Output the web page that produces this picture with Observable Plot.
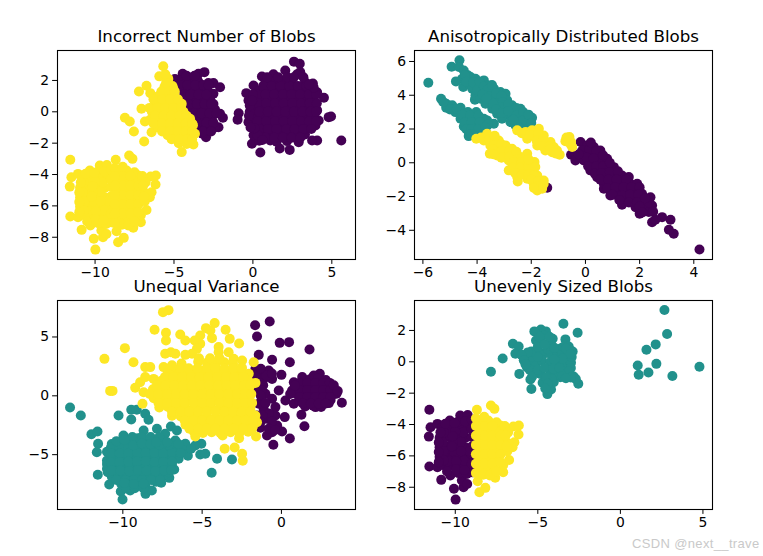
<!DOCTYPE html>
<html><head><meta charset="utf-8">
<script src="https://cdn.jsdelivr.net/npm/d3@7"></script>
<script src="https://cdn.jsdelivr.net/npm/@observablehq/plot@0.6"></script>
<style>
html,body{margin:0;padding:0;background:#fff;width:763px;height:556px;overflow:hidden}
#page{position:relative;width:763px;height:556px}
#page svg{position:absolute;overflow:visible;background:transparent}
#mark{position:absolute;left:632px;top:536px;font:13px "Liberation Sans",sans-serif;color:#c9c9c9;letter-spacing:.35px;white-space:nowrap}
</style></head><body>
<div id="page"></div>
<script>
const purple="#440154", teal="#21918c", yellow="#fde725";

// Lower-left blob, shared by "Incorrect Number" and "Unevenly Sized"
const lowerWest=[[-11.57,-3.06],[-11.5,-4.17],[-11.6,-4.77],[-11.57,-6.68],[-11.08,-6.72],[-10.85,-7.53],[-10.08,-8.1],[-9.98,-8.79],[-9.5,-8],[-9.6,-7.57],[-9.28,-7.79],[-9.7,-3.43],[-10.33,-3.74],[-11.08,-3.96],[-9.25,-3.4],[-10.3,-7.25],
[-10.8,-4.2],[-10.2,-4.25],[-9.7,-4.15],[-9.2,-4.2],[-9.9,-3.85],[-9.4,-3.8],[-10.95,-4.85],[-10.4,-4.8],[-9.9,-4.75],[-9.4,-4.85],[-9,-4.8],[-10.95,-5.45],[-10.4,-5.4],[-9.9,-5.35],[-9.4,-5.45],[-9,-5.4],[-10.95,-6.05],[-10.4,-6],[-9.9,-6.05],[-9.4,-5.95],[-9,-6.05],[-10.7,-6.6],[-10.2,-6.6],[-9.7,-6.65],[-9.2,-6.55],[-9.8,-7.1],[-9.3,-7.15],[-8.95,-7.05],[-10.75,-5.15],[-10.15,-5.7],[-9.65,-5.1],[-9.15,-5.7],[-10.65,-5.75],[-10.15,-5.1],[-9.65,-5.7],[-10.45,-6.35],[-9.45,-6.3],[-9.95,-6.35],[-10.5,-4.5],[-9.5,-4.5],[-10,-4.45],
[-10.7,-4.5],[-10.7,-5.7],[-10.7,-6.3],[-11,-6.4],[-10.2,-5.4],[-10.15,-4.75],[-10.5,-7],[-9.95,-6.85],[-9.45,-6.9],[-9,-6.5],[-9,-4.3],[-9,-3.7],[-10.6,-3.95],[-10.05,-3.9],[-10.9,-4.5],[-11,-5.15],[-11,-5.75]];
const lowerEast=[[-8.69,-3.06],[-7.63,-3],[-7.84,-2.79],[-7.27,-4.06],[-6.48,-4.13],[-6.15,-4.06],[-6.17,-4.64],[-6.42,-5.13],[-6.53,-5.45],[-6.74,-6.26],[-7.1,-7.04],[-7.58,-7.4],[-8.64,-7.62],[-8.54,-8.32],[-8.18,-8.04],
[-8.5,-3.8],[-8,-3.75],[-7.5,-3.85],[-8.5,-4.4],[-8,-4.35],[-7.5,-4.45],[-7,-4.4],[-8.5,-5],[-8,-5.05],[-7.5,-4.95],[-7,-5],[-8.5,-5.6],[-8,-5.55],[-7.5,-5.65],[-7.1,-5.6],[-8.5,-6.2],[-8,-6.25],[-7.5,-6.15],[-7.1,-6.6],[-8.5,-6.8],[-8,-6.8],[-7.6,-6.85],[-8.3,-7.2],[-7.9,-7.25],[-8.25,-4.7],[-7.75,-4.7],[-8.25,-5.3],[-7.75,-5.3],[-8.25,-5.9],[-7.75,-5.9],[-8.25,-6.5],[-7.75,-6.5],[-8.25,-4.1],[-7.75,-4.1],
[-8.75,-3.6],[-8.75,-4.1],[-8.75,-4.7],[-8.75,-5.3],[-8.75,-5.9],[-8.75,-6.5],[-8.75,-7.1],[-7.25,-4.7],[-7.25,-5.3],[-6.8,-5.2],[-7.25,-5.9],[-7.25,-6.4],[-7.5,-7],[-6.85,-5.7],[-7,-4.1],[-6.8,-4.5],[-8.25,-3.5],[-6.95,-4.7],[-6.9,-5.4]];

// Incorrect Number of Blobs
const incorrectRight=[[2.6,3.2],[2.97,3.06],[3,2.53],[2.05,2.64],[1.3,2.4],[.57,2.25],[.04,1.68],[-.42,1.19],[-.28,.72],[4.5,.9],[3.8,1.8],[3.3,1.9],[4.07,1.25],[4.07,.09],[4.17,-.55],[4.8,-.34],[4.95,-.3],[5.6,-1.83],[4.07,-1.83],[3.75,-1.83],[2.9,-1.94],[2.33,-2.43],[1.7,-2.34],[2.16,-1.87],[1.1,-1.83],[.47,-2.6],[-.06,-2.04],[.04,-1.5],[-.28,-.66],[-.9,-.09],[-.97,-.5],[3.3,-1.45],[3.96,-.87],
[.8,1.9],[1.35,1.95],[1.9,2],[2.45,1.95],[2.8,2.4],[.4,1.35],[.95,1.4],[1.5,1.35],[2.05,1.45],[2.6,1.4],[3.15,1.35],[3.7,1.3],[.55,.8],[1.1,.85],[1.65,.8],[2.2,.85],[2.75,.8],[3.3,.85],[3.85,.75],[.1,.3],[.65,.25],[1.2,.3],[1.75,.2],[2.3,.3],[2.85,.25],[3.4,.3],[3.8,.25],[.05,-.3],[.6,-.35],[1.15,-.25],[1.7,-.3],[2.25,-.35],[2.8,-.25],[3.35,-.3],[3.75,-.4],[.2,-.85],[.75,-.9],[1.3,-.8],[1.85,-.85],[2.4,-.9],[2.95,-.8],[3.5,-.85],[.55,-1.4],[1.1,-1.35],[1.65,-1.4],[2.2,-1.35],[2.75,-1.4],[.4,-1.85],[1.5,-1.9]];
const incorrectRightInfill=[[.65,1.65],[1.2,1.65],[1.75,1.65],[2.3,1.65],[2.85,1.65],[3.4,1.65],[.9,2.2],[1.6,2.2],[2.2,2.2],[2.6,2.2],[3.2,2.2],[.3,1.1],[.8,1.1],[1.35,1.1],[1.9,1.1],[2.45,1.1],[3,1.1],[3.55,1.1],[4,1.1],[.3,.55],[.85,.55],[1.4,.55],[1.95,.55],[2.5,.55],[3.05,.55],[3.6,.55],[4.05,.55],[-.2,0],[.4,0],[.95,0],[1.5,0],[2.05,0],[2.6,0],[3.15,0],[3.65,0],[4,0],[.3,-.6],[.85,-.6],[1.4,-.6],[1.95,-.6],[2.5,-.6],[3.05,-.6],[3.55,-.6],[4,-.6],[.4,-1.1],[.95,-1.1],[1.5,-1.1],[2.1,-1.1],[2.65,-1.1],[3.2,-1.1],[3.7,-1.1],[.8,-1.65],[1.35,-1.65],[1.9,-1.65],[2.45,-1.65],[3,-1.65],
[-.2,.4],[-.25,-.25],[0,1.1],[-.05,.7],[.3,-1.5],[.6,-1.8],[.1,-1.05],[-.15,-1],[3.85,1.55],[3.55,1.75]];
const incorrectMidPurple=[[-4.45,2.43],[-3.45,2.43],[-3.07,2.53],[-2.82,1.83],[-2.5,1.83],[-2.08,1.57],[-2.5,1.15],[-2.5,.5],[-2.08,-.13],[-1.9,-.38],[-2.18,-.98],[-2.97,-1.62],[-3.35,1.79],[-4.94,2.1],
[-4.5,2],[-4,2],[-3.5,2],[-4.4,1.4],[-3.9,1.45],[-3.4,1.4],[-2.9,1.35],[-4.2,.8],[-3.7,.85],[-3.2,.8],[-2.7,.75],[-3.9,.2],[-3.4,.25],[-2.9,.2],[-2.4,.15],[-3.6,-.4],[-3.1,-.35],[-2.6,-.4],[-3.4,-1],[-2.9,-.95],[-2.4,-1],[-3.2,-1.4],
[-4.6,1.7],[-4.15,1.7],[-3.65,1.7],[-3.15,1.7],[-2.8,1.7],[-4.35,1.1],[-3.95,1.1],[-3.45,1.1],[-2.95,1.1],[-4.05,.5],[-3.55,.5],[-3.05,.5],[-2.65,.5],[-3.75,-.1],[-3.25,-.1],[-2.75,-.1],[-2.3,-.1],[-3.5,-.7],[-2.95,-.7],[-2.5,-.7],[-3.15,-1.25],[-2.65,-1.25],[-4.2,2.3],[-3.7,2.3]];
const incorrectMidYellow=[[-5.68,2.91],[-5.93,2.26],[-5.36,2.1],[-6.74,1.66],[-7.22,1.3],[-7.06,.19],[-8.11,-.38],[-7.8,-.62],[-7.54,-1.26],[-6.89,-1.89],[-4.51,-2.57],[-3.77,-2.09],[-3.67,-1.4],[-3.98,-.45],[-4.51,.51],[-5.04,1.47],[-6.84,-.62],[-6.42,-1.3],[-6.5,1.19],
[-5.4,2.1],[-5.6,1.6],[-5.1,1.65],[-6,1],[-5.5,1.05],[-5,1],[-6.2,.5],[-5.7,.55],[-5.2,.5],[-4.7,.45],[-6.4,0],[-5.9,.05],[-5.4,0],[-4.9,-.05],[-4.4,0],[-6.5,-.5],[-6,-.5],[-5.5,-.55],[-5,-.45],[-4.5,-.5],[-4.1,-.55],[-6,-1],[-5.5,-1.05],[-5,-.95],[-4.5,-1],[-4,-1.05],[-3.8,-.85],[-5.4,-1.5],[-4.9,-1.55],[-4.4,-1.5],[-4,-1.5],[-4.7,-2],[-4.2,-2.05],
[-5.8,1.3],[-5.3,1.3],[-4.95,1.3],[-6.3,.8],[-5.75,.8],[-5.25,.8],[-4.75,.8],[-6.55,.25],[-6.05,.25],[-5.55,.25],[-5.05,.25],[-4.55,.25],[-6.2,-.25],[-5.65,-.25],[-5.15,-.25],[-4.65,-.25],[-4.2,-.25],[-6.3,-.75],[-5.75,-.75],[-5.25,-.75],[-4.75,-.75],[-4.25,-.75],[-3.85,-.75],[-5.75,-1.25],[-5.25,-1.25],[-4.75,-1.25],[-4.25,-1.25],[-3.85,-1.25],[-5.15,-1.75],[-4.65,-1.75],[-4.15,-1.75],[-3.85,-1.75],[-5.5,1.85],[-5.55,2.4]];

// Anisotropically Distributed Blobs
const anisoTeal=[[-4.65,6.07],[-4.94,5.69],[-4.67,5.67],[-4.49,5.47],[-4.34,5.18],[-4.55,4.98],[-4.78,4.82],[-4.51,4.49],[-4.24,5.08],[-4.06,4.98],[-4.31,4.68],[-4.08,3.74],[-3.75,4.88],[-3.94,4.58],[-4.18,4.39],[-3.57,4.58],[-3.87,4.29],[-4.06,3.99],[-3.38,4.39],[-3.63,4.09],[-3.87,3.79],[-3.14,4.19],[-2.95,4.09],[-3.26,3.79],[-3.51,3.7],[-3.69,3.5],[-2.89,3.7],[-3.2,3.4],[-3.44,3.2],[-2.71,3.4],[-2.95,3.2],[-3.26,2.91],[-2.4,3.2],[-2.58,3],[-2.83,2.81],[-3.08,2.61],[-2.28,2.81],[-2.52,2.61],[-2.77,2.41],[-1.97,2.67],[-2.15,2.41],[-2.4,2.31],[-2.58,2.21],[-2.28,2.15],
[-5.8,4.74],[-5.33,3.79],[-5.14,3.5],[-5.14,3.26],[-4.92,3.4],[-4.8,3],[-4.61,3.26],[-4.34,3],[-4.03,3],[-4.61,2.61],[-4.34,2.61],[-4.06,2.61],[-3.75,2.61],[-3.63,2.51],[-3.38,2.31],[-4.49,2.15],[-4.18,2.21],[-3.87,2.21],[-4.31,1.58],[-4.34,1.92],[-4.06,1.82],[-3.69,1.92],
[-4.45,5.2],[-4.4,4.8],[-4.15,4.75],[-3.9,4.8],[-4,4.3],[-3.75,4.5],[-3.6,4.35],[-3.45,4.6],[-3.8,4.05],[-3.5,3.95],[-3.3,4.1],[-3.1,3.95],[-3.65,3.8],[-3.4,3.5],[-3.05,3.6],[-3.1,3.3],[-2.85,3.45],[-2.55,3.25],[-3.3,3.15],[-3.1,2.95],[-2.85,3.05],[-2.55,2.8],[-2.3,3],[-2.65,2.55],[-2.3,2.5],[-2.45,2.1],[-2.1,2.85],[-2,2.35],
[-5.25,3.6],[-5,3.15],[-4.75,3.2],[-4.55,2.85],[-4.25,2.8],[-3.95,2.8],[-4.45,2.4],[-4.2,2.4],[-3.9,2.4],[-3.6,2.25],[-4.4,2],[-4.2,2],[-3.95,2],[-3.7,2.1],[-4.2,1.7]];
const anisoPurple=[[4.21,-5.14],[3.26,-4.21],[3.08,-3.97],[3.14,-3.38],[2.83,-3.22],[2.46,-3.52],[2.58,-3.38],[2,-3.02],[2.4,-2.04],[2.46,-2.53],[1.35,-2.49],[.92,-1.94],[.68,-1.54],[-1.41,-1.48],[1.6,-.85],[.8,.24],[.55,.73],[-.18,1.23],[-.53,.47],[-.37,.14],
[.06,1.03],[.31,.93],[-.12,.73],[.12,.53],[.43,.43],[-.06,.14],[.25,-.06],[.55,.04],[.18,-.45],[.49,-.45],[.8,-.26],[1.05,-.26],[.43,-.85],[.74,-.85],[1.05,-.75],[1.35,-.75],[.68,-1.25],[.98,-1.25],[1.29,-1.25],[1.66,-1.25],[1.91,-1.25],[.92,-1.64],[1.23,-1.74],[1.54,-1.64],[1.85,-1.64],[2.09,-1.84],[1.48,-2.13],[1.78,-2.13],[2.09,-2.33],[2.28,-2.53],[1.85,-2.63],[2.15,-2.83],[2.34,-2.92],
[.15,.8],[.4,.7],[.05,.3],[.3,.25],[.65,.45],[.1,-.2],[.4,-.2],[.65,-.2],[.9,0],[.35,-.65],[.6,-.6],[.9,-.55],[1.2,-.5],[1.5,-1],[.55,-1],[.85,-1],[1.15,-1],[.8,-1.5],[1.1,-1.45],[1.4,-1.45],[1.7,-1.45],[2,-1.45],[1,-1.9],[1.35,-1.95],[1.65,-1.9],[1.95,-1.9],[1.6,-2.35],[1.9,-2.35],[2.2,-2.1],[2,-2.6],[2.1,-2.95],[2.5,-2.9],[-.25,.5],[.2,1.2],[1.25,-2.2]];
const anisoYellow=[[-4.03,1.42],[-3.63,1.72],[-3.75,1.32],[-3.44,1.52],[-3.2,1.32],[-3.51,1.03],[-3.53,.53],[-3.26,.83],[-2.95,1.03],[-3.26,.43],[-2.95,.53],[-2.71,.83],[-2.64,.43],[-2.83,.14],[-2.4,.34],[-2.15,.53],[-2.52,-.06],[-2.83,-.45],[-2.21,.04],[-1.88,.04],[-2.28,-.45],[-2.52,-.85],[-2.5,-1.11],[-1.97,-.45],[-2.15,-.95],[-1.78,-.75],[-1.54,-1.05],[-1.91,-1.25],[-1.78,-1.64],[-1.6,-1.54],[-1.54,-1.25],
[-2.52,1.92],[-2.21,1.82],[-1.72,2.02],[-1.97,1.92],[-1.54,1.62],[-1.85,1.52],[-2.15,1.42],[-1.78,1.03],[-1.54,1.23],[-1.29,1.23],[-1.48,.73],[-1.17,.93],[-1.05,.73],[-.95,.47],[-1.23,.63],
[-.59,1.52],[-.74,1.28],[-.49,.93],[-.53,1.23],
[-3.85,1.5],[-3.55,1.4],[-3.35,1.15],[-3.4,.8],[-3.1,1.1],[-3.1,.7],[-3.4,.5],[-3.1,.3],[-2.8,.7],[-2.8,.35],[-2.55,.65],[-2.5,.2],[-2.65,.05],[-2.7,-.3],[-2.35,.05],[-2.4,-.3],[-2.1,-.2],[-2.1,.2],[-1.85,-.25],[-2.6,-.6],[-2.35,-.7],[-2.1,-.7],[-1.9,-.75],[-2,-1],[-1.75,-1.1],[-1.75,-1.4],[-1.9,-1.5],[-3.35,1.6],
[-2.35,1.75],[-2.05,1.65],[-1.75,1.75],[-1.8,1.3],[-1.55,1.4],[-1.6,1],[-1.35,.95],[-1.3,.8],[-1.1,.55],[-.7,1.5],[-.55,1.1]];

// Unequal Variance
const unequalTeal=[[-13.33,-.99],[-12.65,-1.67],[-10.27,-1.67],[-9.47,-1.19],[-9.12,-1.19],[-9.47,-2.01],[-8.59,-1.53],[-8.38,-2.04],[-11.98,-3.26],[-11.6,-3.03],[-11.56,-4.08],[-11.64,-4.79],[-11.58,-6.71],[-10.86,-7.54],[-10.13,-8.13],[-10.02,-8.81],[-9.54,-8.05],[-9.22,-7.62],[-8.57,-8.33],[-8.17,-8.05],[-8.59,-7.62],[-7.58,-7.39],[-7.07,-6.97],[-6.76,-6.26],[-6.48,-5.35],[-5.12,-4.99],[-4.8,-4.93],[-4.06,-5.35],[-3.12,-5.41],[-4.4,-6.54],[-5.05,-4.08],[-5.43,-4.22],[-6.06,-4.08],[-6.69,-3.8],[-6.97,-2.61],[-6.59,-2.95],[-7.85,-2.8],[-7.33,-3.23],[-8.69,-2.95],[-9.96,-3.37],
[-10.7,-4.1],[-10.15,-4.05],[-9.6,-3.95],[-9.05,-3.6],[-8.5,-3.7],[-7.95,-3.75],[-7.4,-3.9],[-11,-4.75],[-10.45,-4.7],[-9.9,-4.75],[-9.35,-4.6],[-8.8,-4.45],[-8.25,-4.5],[-7.7,-4.55],[-7.15,-4.5],[-6.6,-4.45],[-11,-5.5],[-10.45,-5.45],[-9.9,-5.45],[-9.35,-5.3],[-8.8,-5.2],[-8.25,-5.25],[-7.7,-5.3],[-7.15,-5.25],[-6.75,-5.1],[-11,-6.2],[-10.45,-6.2],[-9.9,-6.15],[-9.35,-6.05],[-8.8,-5.95],[-8.25,-6],[-7.7,-6.05],[-7.15,-6],[-10.7,-6.85],[-10.15,-6.9],[-9.6,-6.8],[-9.05,-6.7],[-8.5,-6.75],[-7.95,-6.8],[-7.4,-6.7],[-10.1,-7.5],[-9.55,-7.45],[-9,-7.4],[-8.45,-7.2],[-7.9,-7.3],
[-10.75,-4.4],[-10.2,-4.4],[-9.65,-4.4],[-9.1,-4.4],[-8.5,-4.4],[-8,-4.4],[-7.45,-4.4],[-6.9,-4.4],[-10.7,-5.1],[-10.15,-5.1],[-9.6,-5.1],[-9.05,-5.1],[-8.5,-5.1],[-7.95,-5.1],[-7.4,-5.1],[-6.9,-5.1],[-6.5,-5.1],[-5.9,-5.1],[-11,-5.8],[-10.7,-5.8],[-10.15,-5.8],[-9.6,-5.8],[-9.05,-5.8],[-8.5,-5.8],[-7.95,-5.8],[-7.4,-5.8],[-6.9,-5.8],[-10.95,-6.5],[-10.4,-6.5],[-9.85,-6.5],[-9.3,-6.5],[-8.75,-6.5],[-8.2,-6.5],[-7.65,-6.5],[-7.1,-6.5],[-10.4,-7.15],[-9.85,-7.15],[-9.3,-7.15],[-8.75,-7.15],[-8.2,-7.15],[-7.65,-7.15],[-9.8,-7.85],[-9.25,-7.85],[-8.7,-7.85],[-9.4,-3.5],[-8.8,-3.5],[-8.25,-3.5],[-7.7,-3.5],[-6.2,-4.6],[-5.7,-4.5],
[-10.75,-4.9],[-10.2,-4.9],[-9.65,-4.9],[-9.1,-4.85],[-8.55,-4.85],[-8,-4.85],[-7.45,-4.9],[-6.9,-4.85],[-6.35,-4.85],[-10.75,-5.65],[-10.2,-5.65],[-9.65,-5.6],[-9.1,-5.55],[-8.55,-5.55],[-8,-5.65],[-7.45,-5.65],[-6.9,-5.55],[-10.7,-6.35],[-10.15,-6.35],[-9.6,-6.4],[-9.05,-6.3],[-8.5,-6.35],[-7.95,-6.4],[-7.4,-6.35],[-6.95,-6.3],[-9.35,-4.2],[-8.8,-4.05],[-8.25,-4.1],[-7.7,-4.15],[-7.1,-4.15],[-6.5,-4.1],[-7.9,-3.95],[-7.2,-3.95],[-9.9,-7.4],[-9.3,-7.5],[-8.7,-7.45],[-10.4,-3.85],[-9.9,-3.75]];
const unequalYellow=[[-7.12,7.28],[-7.47,7.11],[-8,5.61],[-4.21,6.18],[-4.76,5.75],[-4.48,5.55],[-3.52,5.61],[-6.38,5.21],[-7.28,5.35],[-7.28,4.7],[-6.06,4.7],[-5.12,5.13],[-4.38,4.9],[-3.26,4.84],[-2.67,4.45],[-5.47,4.7],[-5.12,4.42],[-5.33,3.99],[-5.64,3.57],[-3.96,4.14],[-3.96,3.71],[-3.33,3.71],[-9.87,4.05],[-11.16,3.14],[-9.33,2.86],[-8.59,2.44],[-8.27,2.44],[-7.33,3.57],[-6.97,3.71],[-6.69,3.57],[-7.43,2.44],[-6.06,3.48],[-10.8,.42],[-10.65,.42],[-9.22,.68],[-8.91,1.16],[-8.59,1.59],[-8.06,1.44],[-8.69,.31],[-8.76,-.68],[-3.01,3.14],[-2.48,3],[-1.75,2.86],[-3.58,-4.5],[-2.95,-4.39],[-2.48,-4.93],[-2.44,-5.52],[-1.6,-3.46],[-2.67,-3.6],[-3.71,-3.37],[-5.43,-3.46],[-1.54,-2.24],[-1.64,-1.67],[-1.96,-1.1],[-1.64,1.1],[-2.06,1.87],
[-6.3,2.75],[-5.25,2.9],[-4.7,2.8],[-4.15,2.7],[-3.6,2.85],[-3.05,2.7],[-2.5,2.4],[-7.15,1.95],[-6.6,2.05],[-6.05,2.1],[-5.5,2],[-4.95,2.15],[-4.4,2],[-3.85,2.1],[-3.3,2],[-2.75,1.9],[-7.6,1.25],[-7.05,1.3],[-6.5,1.25],[-5.95,1.35],[-5.4,1.25],[-4.85,1.3],[-4.3,1.25],[-3.75,1.35],[-3.2,1.25],[-2.65,1.2],[-2.1,1.3],[-8.1,.55],[-7.55,.5],[-7,.55],[-6.45,.45],[-5.9,.55],[-5.35,.5],[-4.8,.55],[-4.25,.45],[-3.7,.55],[-3.15,.5],[-2.6,.55],[-2.05,.45],[-8.05,-.2],[-7.5,-.25],[-6.95,-.2],[-6.4,-.3],[-5.85,-.2],[-5.3,-.25],[-4.75,-.2],[-4.2,-.3],[-3.65,-.2],[-3.1,-.25],[-2.55,-.2],[-2.05,-.3],[-7.7,-1],[-7.15,-.95],[-6.6,-1],[-6.05,-1.05],[-5.5,-.95],[-4.95,-1],[-4.4,-1.05],[-3.85,-.95],[-3.3,-1],[-2.75,-1.05],[-2.2,-.95],[-6.9,-1.7],[-6.35,-1.75],[-5.8,-1.7],[-5.25,-1.75],[-4.7,-1.7],[-4.15,-1.8],[-3.6,-1.7],[-3.05,-1.75],[-2.5,-1.7],[-2,-1.75],[-6.05,-2.45],[-5.5,-2.5],[-4.95,-2.45],[-4.4,-2.5],[-3.85,-2.45],[-3.3,-2.5],[-2.75,-2.45],[-2.2,-2.5],[-1.8,-2.6],[-5.5,-3.1],[-4.95,-3.15],[-4.4,-3.1],[-3.85,-3.15],[-3.2,-3.1],[-2.65,-3.15],[-2.1,-3.05],
[-7,2.35],[-6.4,2.35],[-5.85,2.35],[-5.3,2.35],[-4.7,2.35],[-4.15,2.35],[-3.6,2.35],[-3.05,2.35],[-2.5,2.35],[-7.35,1.6],[-6.8,1.6],[-6.25,1.6],[-5.7,1.6],[-5.15,1.6],[-4.6,1.6],[-4.05,1.6],[-3.5,1.6],[-2.95,1.6],[-2.4,1.6],[-7.85,.9],[-7.3,.9],[-6.75,.9],[-6.2,.9],[-5.65,.9],[-5.1,.9],[-4.55,.9],[-4,.9],[-3.45,.9],[-2.9,.9],[-2.35,.9],[-1.95,.9],[-8.3,.15],[-7.75,.15],[-7.2,.15],[-6.65,.15],[-6.1,.15],[-5.55,.15],[-5,.15],[-4.45,.15],[-3.9,.15],[-3.35,.15],[-2.8,.15],[-2.3,.15],[-1.9,.15],[-7.75,-.6],[-7.2,-.6],[-6.65,-.6],[-6.1,-.6],[-5.55,-.6],[-5,-.6],[-4.45,-.6],[-3.9,-.6],[-3.35,-.6],[-2.8,-.6],[-2.3,-.6],[-1.85,-.6],[-6.9,-1.35],[-6.35,-1.35],[-5.8,-1.35],[-5.25,-1.35],[-4.7,-1.35],[-4.15,-1.35],[-3.6,-1.35],[-3.05,-1.35],[-2.5,-1.35],[-1.95,-1.35],[-6.1,-2.1],[-5.55,-2.1],[-5,-2.1],[-4.45,-2.1],[-3.9,-2.1],[-3.35,-2.1],[-2.8,-2.1],[-2.25,-2.1],[-1.8,-2.1],[-5.8,-2.8],[-5.25,-2.8],[-4.7,-2.8],[-4.15,-2.8],[-3.6,-2.8],[-3,-2.8],[-2.4,-2.8],[-1.85,-2.8],[-5.2,3.2],[-4.5,3.2],[-3.9,3.2],[-6.9,2.6]];
const unequalPurple=[[-.74,6.32],[-1.66,6],[-1.54,5.04],[-.11,4.5],[.48,4.56],[1.77,3.94],[-1.43,3.48],[-.59,3.06],[.53,2.86],[-1.64,2.29],[-1.12,2.01],[-.8,2.15],[0,1.78],[-.59,1.44],[-1.12,1.44],[-1.64,1.73],[-1.54,.45],[-1.01,.17],[-.17,.45],[-.59,-.25],[.25,-.4],[-1.43,-.68],[-1.12,-1.1],[-.38,-.96],[-1.54,-1.67],[-.91,-1.95],[-.38,-1.67],[.21,-1.81],[-1.33,-2.72],[-.27,-2.52],[.04,-3.03],[-.59,-3.09],[-.91,-3.37],[.53,-3.63],[-.51,-4.16],[1.45,-2.58],[1.26,-1.61],[3.81,-.59],[2.99,-.62],[3.47,.17],[2.15,-.96],
[2.42,1.87],[2.04,1.73],[1.31,1.59],[.78,1.16],[.67,.45],[.78,-.68],[1.8,1.4],[2.3,1.45],[2.8,1.35],[.9,.8],[1.4,.85],[1.9,.75],[2.4,.8],[2.9,.85],[3.2,.7],[.9,.2],[1.4,.25],[1.9,.15],[2.4,.2],[2.9,.25],[3.3,.15],[1.1,-.4],[1.6,-.35],[2.1,-.45],[2.6,-.4],[3.1,-.35],[1.5,-.9],[2,-.85],[2.5,-.95],
[1.15,1.1],[1.65,1.1],[2.15,1.1],[2.65,1.1],[3.05,1.1],[1.15,.5],[1.65,.5],[2.15,.5],[2.65,.5],[3.1,.5],[1.15,-.1],[1.65,-.1],[2.15,-.1],[2.65,-.1],[3.1,-.1],[1.35,-.65],[1.85,-.65],[2.35,-.65],[2.8,-.65],[.85,.85],[.55,.15],[3.3,.9],[3.55,.4],
[-1.3,2.3],[-.95,1.7],[-.6,1.9],[-1.4,1.1],[-1.15,.9],[-1.25,.5],[-1.3,0],[-1,-.6],[-.8,-1.5],[-1.2,-1.7],[-.6,-2.2],[-.8,-2.8],[-.4,-2.9],[-1.3,-2.2]];

// Unevenly Sized Blobs
const unevenTeal=[[2.67,3.3],[2.83,1.77],[2.14,1.11],[1.58,.77],[1.05,-.23],[1.11,-.83],[1.7,-.68],[2.18,-.13],[3.15,-.91],[4.79,-.32],
[-3.45,2.43],[-2.59,1.85],[-3.33,1.43],[-4.1,1.47],[-4.24,1.26],[-4.81,2.06],[-5.21,1.94],[-4.51,1.94],[-5.11,1.36],[-6.51,1.15],[-6.16,.98],[-6.36,.51],[-7.13,.21],[-7.84,-.64],[-6.12,-.77],[-5.39,-1.74],[-5.45,-1.13],[-4.71,-1.34],[-4.2,-1.77],[-4.42,-2.06],[-4.04,-1.3],[-2.55,-1.4],[-2.83,-.94],[-3.23,-.77],[-3.64,-.98],[-2.99,-.06],[-2.89,.66],[-3.13,.98],[-3.64,.83],[-5.86,.4],[-5.45,-.02],[-5.05,.72],[-4.65,.51],[-4.24,.51],[-3.84,.4],[-3.33,.51],[-5.66,-.34],[-5.15,-.13],[-4.75,.09],[-4.24,-.02],[-3.84,-.13],[-3.43,-.13],[-5.25,-.66],[-4.85,-.77],[-4.24,-.66],[-3.84,-.77],[-4.14,-1.13],[-4.95,1.15],[-4.65,1.68],[-3.54,.62],
[-5.6,.1],[-5.3,.3],[-5,.3],[-4.4,.8],[-4,.9],[-3.45,.95],[-3.2,.4],[-3.1,.1],[-3.5,.2],[-4,.15],[-5.4,.65],[-5.6,.6],[-5.5,-.5],[-5.35,-.95],[-5,-.5],[-4.6,-.4],[-4.5,-1],[-4.4,-1.4],[-3.4,-.5],[-3,-.4],[-4.05,-.45],[-3.7,-.4],[-3.1,-.6],[-4.9,1.6],[-5,.95],[-4.6,1.1],[-4.3,1.6],[-2.7,-1.1],[-4.55,-1.7],
[-6,.45],[-5.85,.1],[-5.75,-.15],[-3,.7],[-3.3,.85],[-2.95,.3],[-3,.5],[-3.5,-.9],[-3,-1],[-3.3,-1.05]];

const panels=[
 {title:"Incorrect Number of Blobs",left:0,top:0,height:300,marginLeft:57,marginRight:26,marginTop:50,marginBottom:41,xDomain:[-12.38,6.5],yDomain:[-9.42,3.91],xTicks:[-10,-5,0,5],yTicks:[-8,-6,-4,-2,0,2],
  layers:[[incorrectRight,purple],[incorrectRightInfill,purple],[incorrectMidPurple,purple],[incorrectMidYellow,yellow],[lowerWest,yellow],[lowerEast,yellow]]},
 {title:"Anisotropically Distributed Blobs",left:381,top:0,height:300,marginLeft:33,marginRight:50,marginTop:50,marginBottom:41,xDomain:[-6.31,4.69],yDomain:[-5.73,6.65],xTicks:[-6,-4,-2,0,2,4],yTicks:[-4,-2,0,2,4,6],
  layers:[[anisoPurple,purple],[anisoTeal,teal],[anisoYellow,yellow]]},
 {title:"Unequal Variance",left:0,top:278,height:278,marginLeft:57,marginRight:26,marginTop:22,marginBottom:47,xDomain:[-14.12,4.67],yDomain:[-9.66,8.1],xTicks:[-10,-5,0],yTicks:[-5,0,5],
  layers:[[unequalPurple,purple],[unequalTeal,teal],[unequalYellow,yellow]]},
 {title:"Unevenly Sized Blobs",left:381,top:278,height:278,marginLeft:33,marginRight:50,marginTop:22,marginBottom:47,xDomain:[-12.47,5.58],yDomain:[-9.42,3.91],xTicks:[-10,-5,0,5],yTicks:[-8,-6,-4,-2,0,2],
  layers:[[lowerWest,purple],[lowerEast,yellow],[unevenTeal,teal]]}
];

const minus=d=>String(d).replace("-","\u2212");
const page=document.getElementById("page");
for(const p of panels){
  const svg=Plot.plot({
    width:381,height:p.height,
    marginLeft:p.marginLeft,marginRight:p.marginRight,marginTop:p.marginTop,marginBottom:p.marginBottom,
    style:{fontFamily:"'DejaVu Sans'",fontSize:"13.9px",background:"transparent",color:"#000",overflow:"visible"},
    x:{domain:p.xDomain,label:null},
    y:{domain:p.yDomain,label:null},
    marks:[
      ...p.layers.map(([data,fill])=>Plot.dot(data,{x:d=>d[0],y:d=>d[1],r:5,fill,stroke:"none"})),
      Plot.frame({stroke:"#000",strokeWidth:1.1}),
      Plot.axisX({ticks:p.xTicks,tickFormat:minus,tickSize:4.9,tickPadding:2.5,fontSize:13.9,fontFamily:"'DejaVu Sans'",label:null,stroke:"#000",fill:"#000",strokeOpacity:1}),
      Plot.axisY({ticks:p.yTicks,tickFormat:minus,tickSize:4.9,tickPadding:3.5,fontSize:13.9,fontFamily:"'DejaVu Sans'",label:null,stroke:"#000",fill:"#000",strokeOpacity:1}),
      Plot.text([p.title],{text:d=>d,frameAnchor:"top",dy:-9,lineAnchor:"bottom",fontSize:16.67,fontFamily:"'DejaVu Sans'",fill:"#000"})
    ]
  });
  svg.style.left=p.left+"px";
  svg.style.top=p.top+"px";
  page.appendChild(svg);
}
const mark=document.createElement("div");
mark.id="mark";
mark.textContent="CSDN @next__trave";
page.appendChild(mark);
</script>
</body></html>
